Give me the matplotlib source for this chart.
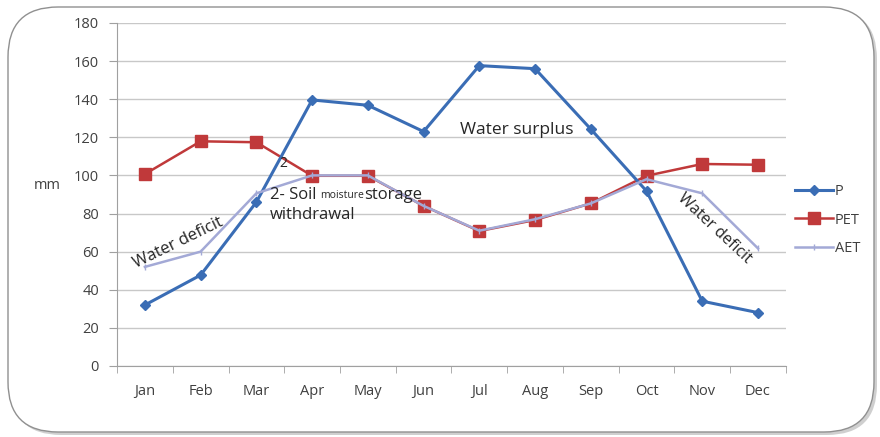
import matplotlib
matplotlib.use("Agg")
import matplotlib.pyplot as plt
from matplotlib.patches import FancyBboxPatch

# données (mm)
months = ["Jan", "Feb", "Mar", "Apr", "May", "Jun", "Jul", "Aug", "Sep", "Oct", "Nov", "Dec"]
p = [32, 47.7, 86, 139.6, 136.8, 123, 157.6, 156, 124.3, 91.8, 34, 28]
pet = [100.7, 117.9, 117.4, 99.8, 99.8, 84, 70.8, 76.6, 85.3, 99.8, 106, 105.6]
aet = [52, 60, 90.6, 100, 100, 84, 71, 77, 85.3, 98, 90.6, 61.7]
y_ticks = list(range(0, 181, 20))

plt.rcParams["font.family"] = ["Open Sans", "DejaVu Sans"]
txt_col = "#404040"
ann_col = "#262626"

fig = plt.figure(figsize=(8.8, 4.37), dpi=100)

# cadre arrondi avec ombre (derrière les axes)
shadow = FancyBboxPatch((0.11, 0.02), 8.66, 4.26, boxstyle="round,pad=0,rounding_size=0.5",
                        transform=fig.dpi_scale_trans, fc="#b0b0b0", ec="none", alpha=0.6, zorder=-2)
frame = FancyBboxPatch((0.08, 0.05), 8.66, 4.25, boxstyle="round,pad=0,rounding_size=0.5",
                       transform=fig.dpi_scale_trans, fc="white", ec="#909090", lw=1.0, zorder=-1)
fig.patches.extend([shadow, frame])

ax = fig.add_axes([0.133, 0.1625, 0.760, 0.785])
ax.set_facecolor("none")
x = range(len(months))

ax.plot(x, p, color="#3A6DB5", lw=2.2, marker="D", ms=5.5, label="P", zorder=4)
ax.plot(x, pet, color="#C0393A", lw=1.8, marker="s", ms=8, label="PET", zorder=3)
ax.plot(x, aet, color="#A3A9D6", lw=1.8, marker="|", ms=4, label="AET", zorder=5)

ax.set_xlim(-0.5, 11.5)
ax.set_ylim(0, 180)
ax.set_yticks(y_ticks)
ax.set_xticks(list(x))
ax.set_xticklabels(months)
ax.set_xticks([i - 0.5 for i in range(13)], minor=True)
ax.tick_params(axis="x", which="major", length=0, pad=13, labelsize=10.5, labelcolor=txt_col)
ax.tick_params(axis="x", which="minor", length=5, color="#a0a0a0")
ax.tick_params(axis="y", length=6, color="#a0a0a0", labelsize=10.5, labelcolor=txt_col, pad=7)
ax.grid(axis="y", color="#c8c8c8", lw=1)
ax.set_axisbelow(True)
for s in ["top", "right"]:
    ax.spines[s].set_visible(False)
for s in ["left", "bottom"]:
    ax.spines[s].set_color("#a0a0a0")

fig.text(47 / 880, 1 - 185 / 437, "mm", fontsize=10.5, color=txt_col, ha="center", va="center")

# annotations
ax.text(0.6, 64.5, "Water deficit", rotation=26, fontsize=12, color=ann_col,
        ha="center", va="center", zorder=6)
ax.text(10.21, 72, "Water deficit", rotation=-43, fontsize=11.5, color=ann_col,
        ha="center", va="center", zorder=6)
ax.text(5.65, 124, "Water surplus", fontsize=12.5, color=ann_col, ha="left", va="center", zorder=6)
ax.text(2.48, 106, "2", fontsize=10, color=ann_col, ha="center", va="center", zorder=6)
t1 = ax.text(2.24, 89.7, "2- Soil ", fontsize=12, color=ann_col, ha="left", va="center", zorder=6)
t2 = ax.annotate("moisture", xy=(1, 0.12), xycoords=t1, fontsize=7.5, color=ann_col,
                 ha="left", va="bottom", zorder=6)
ax.annotate("storage", xy=(1, -0.2), xycoords=t2, fontsize=12, color=ann_col,
            ha="left", va="bottom", zorder=6)
ax.text(2.24, 79.2, "withdrawal", fontsize=12, color=ann_col, ha="left", va="center", zorder=6)

leg = fig.legend(loc="center left", bbox_to_anchor=(782 / 880, 1 - 220 / 437), frameon=False,
                 fontsize=10.5, handlelength=2.6, handletextpad=0.1, labelspacing=0.95)
for t in leg.get_texts():
    t.set_color(txt_col)

fig.savefig("out.png", dpi=100)
